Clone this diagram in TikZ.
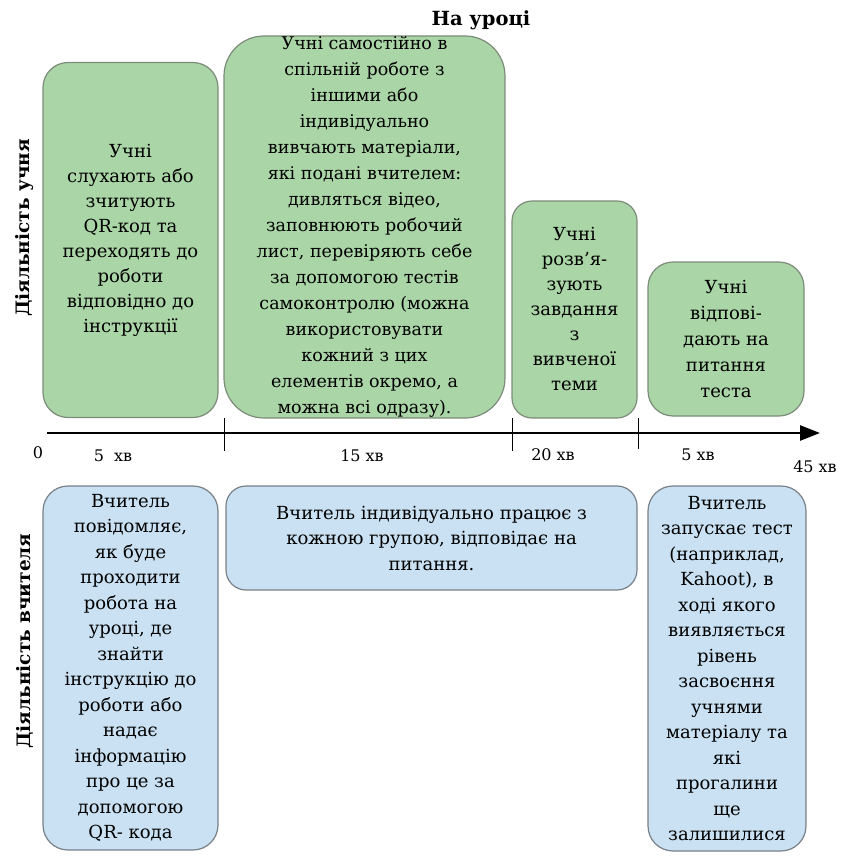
\documentclass[tikz,border=0pt]{standalone}
\usepackage{fontspec}
\setmainfont{DejaVu Serif}
\usetikzlibrary{arrows.meta}
\definecolor{gfill}{RGB}{170,213,166}
\definecolor{gline}{RGB}{125,140,122}
\definecolor{bfill}{RGB}{201,225,242}
\definecolor{bline}{RGB}{120,128,136}
\tikzset{
  gbox/.style={draw=gline, line width=1.2pt, fill=gfill, align=center, inner sep=0pt,
    font=\fontsize{18}{25}\selectfont},
  bbox/.style={draw=bline, line width=1.2pt, fill=bfill, align=center, inner sep=0pt,
    font=\fontsize{18}{25.5}\selectfont},
  tlabel/.style={font=\fontsize{16}{18}\selectfont, inner sep=0pt},
  sidelabel/.style={font=\bfseries\fontsize{18.5}{20}\selectfont, rotate=90, inner sep=0pt},
  tick/.style={line width=1pt},
}
\begin{document}
\begin{tikzpicture}[x=1pt,y=-1pt]
\useasboundingbox (0,0) rectangle (841,856);
% title
\node[font=\bfseries\fontsize{19.5}{22}\selectfont, inner sep=0pt] (title) at (481,20) {На уроці};
% side labels
\node[sidelabel] (lstud) at (25,228) {Діяльність учня};
\node[sidelabel] (lteach) at (25,641) {Діяльність вчителя};
% student boxes
\node[gbox, rounded corners=25pt, minimum width=175pt, minimum height=355pt] (s1) at (130.5,240)
  {Учні\\слухають або\\зчитують\\QR-код та\\переходять до\\роботи\\відповідно до\\інструкції};
\node[gbox, rounded corners=40pt, minimum width=281pt, minimum height=382pt,
  font=\fontsize{17.5}{26}\selectfont] (s2) at (364.5,227)
  {Учні самостійно в\\спільній роботе з\\іншими або\\індивідуально\\вивчають матеріали,\\які подані вчителем:\\дивляться відео,\\заповнюють робочий\\лист, перевіряють себе\\за допомогою тестів\\самоконтролю (можна\\використовувати\\кожний з цих\\елементів окремо, а\\можна всі одразу).};
\node[gbox, rounded corners=20pt, minimum width=125pt, minimum height=217pt] (s3) at (574.5,309.5)
  {Учні\\розв’я-\\зують\\завдання\\з\\вивченої\\теми};
\node[gbox, rounded corners=25pt, minimum width=156pt, minimum height=154pt,
  font=\fontsize{18}{26}\selectfont] (s4) at (726,339)
  {Учні\\відпові-\\дають на\\питання\\теста};
% time axis
\coordinate (a0) at (47,433);
\coordinate (a1) at (820,433);
\draw[line width=2.6pt, -{Triangle[length=20pt, width=15pt]}] (a0) -- (a1);
\coordinate (t1a) at (224,418); \coordinate (t1b) at (224,451);
\coordinate (t2a) at (512,418); \coordinate (t2b) at (512,451);
\coordinate (t3a) at (638,418); \coordinate (t3b) at (638,449);
\draw[tick] (t1a) -- (t1b);
\draw[tick] (t2a) -- (t2b);
\draw[tick] (t3a) -- (t3b);
\node[tlabel] (l0) at (38,453) {0};
\node[tlabel] (l5a) at (113,456) {5\ \ хв};
\node[tlabel] (l15) at (362,456) {15 хв};
\node[tlabel] (l20) at (553,455) {20 хв};
\node[tlabel] (l5b) at (698,455) {5 хв};
\node[tlabel] (l45) at (815,467) {45 хв};
% teacher boxes
\node[bbox, rounded corners=25pt, minimum width=175pt, minimum height=364pt] (t1) at (130.5,668)
  {Вчитель\\повідомляє,\\як буде\\проходити\\робота на\\уроці, де\\знайти\\інструкцію до\\роботи або\\надає\\інформацію\\про це за\\допомогою\\QR- кода};
\node[bbox, rounded corners=20pt, minimum width=411pt, minimum height=104pt] (t2) at (431.5,538)
  {Вчитель індивідуально працює з\\кожною групою, відповідає на\\питання.};
\node[bbox, rounded corners=25pt, minimum width=158pt, minimum height=365pt] (t3) at (727,668.5)
  {Вчитель\\запускає тест\\(наприклад,\\Kahoot), в\\ході якого\\виявляється\\рівень\\засвоєння\\учнями\\матеріалу та\\які\\прогалини\\ще\\залишилися};
\end{tikzpicture}
\end{document}
